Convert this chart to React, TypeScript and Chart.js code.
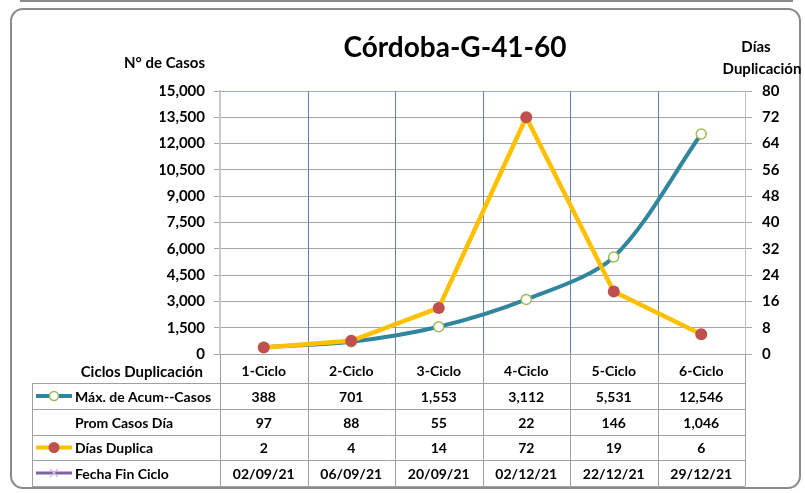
import React, { useEffect, useRef } from 'react';
import { Chart, registerables } from 'chart.js';

Chart.register(...registerables);

const chartTitle = 'Córdoba-G-41-60';
const leftAxisTitle = 'N° de Casos';
const rightAxisTitle = ['Días', 'Duplicación'];
const tableHeader = 'Ciclos Duplicación';
const categories = ['1-Ciclo', '2-Ciclo', '3-Ciclo', '4-Ciclo', '5-Ciclo', '6-Ciclo'];
const maxAcumCasos = [388, 701, 1553, 3112, 5531, 12546];
const promCasosDia = [97, 88, 55, 22, 146, 1046];
const diasDuplica = [2, 4, 14, 72, 19, 6];
const fechaFinCiclo = ['02/09/21', '06/09/21', '20/09/21', '02/12/21', '22/12/21', '29/12/21'];
const seriesNames = ['Máx. de Acum--Casos', 'Prom Casos Día', 'Días Duplica', 'Fecha Fin Ciclo'];
const casosAxis = [0, 15000, 1500];
const diasAxis = [0, 80, 8];

const FONT = 'Lato, "Open Sans", sans-serif';
const fmt = (v: number) => v.toLocaleString('en-US');

const TEAL = '#31859C';
const GREEN = '#9BBB59';
const YELLOW = '#FFC000';
const RED = '#C0504D';
const PURPLE = '#8064A2';
const GRID_GRAY = '#a6a6a6';
const GRID_BLUE = '#6482b4';
const TABLE_GRAY = '#a0a0a0';

const columnEdges = (chart: any) => {
  const xs = chart.scales.x;
  const centers = categories.map((_, i) => xs.getPixelForValue(i));
  const half = (centers[1] - centers[0]) / 2;
  const edges = [...centers.map((c) => c - half), centers[centers.length - 1] + half];
  return { centers, edges };
};

const decorPlugin = {
  id: 'decor',
  beforeDatasetsDraw(chart: any) {
    const ctx = chart.ctx as CanvasRenderingContext2D;
    const { top, bottom } = chart.chartArea;
    const { edges } = columnEdges(chart);
    ctx.save();
    ctx.strokeStyle = GRID_BLUE;
    ctx.lineWidth = 1;
    ctx.beginPath();
    edges.slice(1, edges.length - 1).forEach((x) => {
      ctx.moveTo(Math.round(x) + 0.5, top);
      ctx.lineTo(Math.round(x) + 0.5, bottom);
    });
    ctx.stroke();
    ctx.restore();
  },
  afterDraw(chart: any) {
    const ctx = chart.ctx as CanvasRenderingContext2D;
    const { right, bottom } = chart.chartArea;
    ctx.save();

    // frame of the previous chart (top edge)
    ctx.strokeStyle = '#8a8a8a';
    ctx.lineWidth = 2;
    ctx.beginPath();
    ctx.moveTo(20, 1);
    ctx.lineTo(793, 1);
    ctx.stroke();

    // outer rounded frame
    ctx.beginPath();
    (ctx as any).roundRect(11, 9, 789, 479, 12);
    ctx.stroke();

    // titles
    ctx.fillStyle = '#000';
    ctx.textBaseline = 'middle';
    ctx.textAlign = 'center';
    ctx.font = `bold 28px ${FONT}`;
    ctx.fillText(chartTitle, 455, 48);
    ctx.font = `bold 15px ${FONT}`;
    ctx.textAlign = 'right';
    ctx.fillText(leftAxisTitle, 205, 63);
    ctx.textAlign = 'center';
    ctx.font = `bold 15px ${FONT}`;
    ctx.fillText(rightAxisTitle[0], 756, 47);
    ctx.fillText(rightAxisTitle[1], 762, 69);

    // data table
    const { centers, edges } = columnEdges(chart);
    const rowLines = [bottom + 29, bottom + 55, bottom + 81, bottom + 106, bottom + 132];
    const tableLeft = 32;

    ctx.strokeStyle = TABLE_GRAY;
    ctx.lineWidth = 1;
    ctx.beginPath();
    rowLines.forEach((y) => {
      ctx.moveTo(tableLeft, Math.round(y) + 0.5);
      ctx.lineTo(right, Math.round(y) + 0.5);
    });
    ctx.moveTo(tableLeft + 0.5, rowLines[0]);
    ctx.lineTo(tableLeft + 0.5, rowLines[4]);
    edges.forEach((x) => {
      ctx.moveTo(Math.round(x) + 0.5, bottom);
      ctx.lineTo(Math.round(x) + 0.5, rowLines[4]);
    });
    ctx.stroke();
    // right edge of plot area
    ctx.beginPath();
    ctx.strokeStyle = '#bfbfbf';
    ctx.moveTo(Math.round(right) + 0.5, chart.chartArea.top);
    ctx.lineTo(Math.round(right) + 0.5, bottom);
    ctx.stroke();

    // header label
    ctx.fillStyle = '#000';
    ctx.font = `bold 15px ${FONT}`;
    ctx.textAlign = 'right';
    ctx.fillText(tableHeader, 203, bottom + 18);

    const rows: string[][] = [
      maxAcumCasos.map(fmt),
      promCasosDia.map(fmt),
      diasDuplica.map(fmt),
      fechaFinCiclo,
    ];
    for (let r = 0; r < 4; r++) {
      const yc = (rowLines[r] + rowLines[r + 1]) / 2 + 1;
      ctx.font = `bold 14px ${FONT}`;
      ctx.fillStyle = '#000';
      ctx.textAlign = 'left';
      ctx.fillText(seriesNames[r], 75, yc);
      ctx.textAlign = 'center';
      rows[r].forEach((t, i) => ctx.fillText(t, centers[i], yc));

      // legend keys
      const ky = yc - 1;
      if (r === 0) {
        ctx.strokeStyle = TEAL;
        ctx.lineWidth = 4;
        ctx.beginPath();
        ctx.moveTo(36, ky);
        ctx.lineTo(72, ky);
        ctx.stroke();
        ctx.beginPath();
        ctx.arc(54, ky, 4.5, 0, Math.PI * 2);
        ctx.fillStyle = '#fff';
        ctx.fill();
        ctx.strokeStyle = GREEN;
        ctx.lineWidth = 1.5;
        ctx.stroke();
      } else if (r === 2) {
        ctx.strokeStyle = YELLOW;
        ctx.lineWidth = 4;
        ctx.beginPath();
        ctx.moveTo(36, ky);
        ctx.lineTo(72, ky);
        ctx.stroke();
        ctx.beginPath();
        ctx.arc(54, ky, 5.5, 0, Math.PI * 2);
        ctx.fillStyle = RED;
        ctx.fill();
      } else if (r === 3) {
        ctx.strokeStyle = PURPLE;
        ctx.lineWidth = 3;
        ctx.beginPath();
        ctx.moveTo(36, ky);
        ctx.lineTo(72, ky);
        ctx.stroke();
        ctx.strokeStyle = '#c9b8dd';
        ctx.lineWidth = 1.2;
        ctx.beginPath();
        ctx.moveTo(50, ky - 4);
        ctx.lineTo(58, ky + 4);
        ctx.moveTo(58, ky - 4);
        ctx.lineTo(50, ky + 4);
        ctx.stroke();
      }
    }
    ctx.restore();
  },
};

export default function App() {
  const canvasRef = useRef<HTMLCanvasElement | null>(null);

  useEffect(() => {
    document.body.style.margin = '0';
    const canvas = canvasRef.current;
    if (!canvas) return;
    const chart = new Chart(canvas, {
      type: 'line',
      data: {
        labels: categories,
        datasets: [
          {
            label: seriesNames[2],
            data: diasDuplica,
            yAxisID: 'y2',
            borderColor: YELLOW,
            backgroundColor: RED,
            borderWidth: 4.5,
            tension: 0,
            pointRadius: 6,
            pointBackgroundColor: RED,
            pointBorderColor: RED,
            pointBorderWidth: 0,
          },
          {
            label: seriesNames[0],
            data: maxAcumCasos,
            yAxisID: 'y',
            borderColor: TEAL,
            backgroundColor: '#fff',
            borderWidth: 4,
            tension: 0.3,
            pointRadius: 5,
            pointBackgroundColor: '#fff',
            pointBorderColor: GREEN,
            pointBorderWidth: 1.5,
          },
        ],
      },
      options: {
        animation: false,
        responsive: true,
        maintainAspectRatio: false,
        layout: { padding: { left: 160, right: 0, top: 91, bottom: 0 } },
        plugins: { legend: { display: false }, tooltip: { enabled: false }, title: { display: false } },
        scales: {
          x: {
            type: 'category',
            offset: true,
            grid: { display: false, drawTicks: false },
            border: { display: true, color: GRID_GRAY },
            ticks: { color: '#000', font: { family: FONT, size: 14, weight: 'bold' }, padding: 9 },
            afterFit: (s: any) => {
              s.height = 139;
            },
          },
          y: {
            type: 'linear',
            position: 'left',
            min: casosAxis[0],
            max: casosAxis[1],
            grid: {
              color: (c: any) => (c.tick && c.tick.value === casosAxis[1] ? '#95b3d7' : GRID_GRAY),
              tickColor: GRID_GRAY,
              tickLength: 6,
            },
            border: { display: true, color: '#c8c8c8', width: 2 },
            ticks: {
              stepSize: casosAxis[2],
              color: '#000',
              padding: 9,
              font: { family: FONT, size: 15, weight: 'bold' },
              callback: (v: any) => fmt(Number(v)),
            },
            afterFit: (s: any) => {
              s.width = 60;
            },
          },
          y2: {
            type: 'linear',
            position: 'right',
            min: diasAxis[0],
            max: diasAxis[1],
            grid: { drawOnChartArea: false, tickColor: GRID_GRAY, tickLength: 7 },
            border: { display: true, color: '#bfbfbf' },
            ticks: {
              stepSize: diasAxis[2],
              color: '#000',
              padding: 10,
              font: { family: FONT, size: 15, weight: 'bold' },
            },
            afterFit: (s: any) => {
              s.width = 60;
            },
          },
        },
      } as any,
      plugins: [decorPlugin],
    });
    return () => chart.destroy();
  }, []);

  return (
    <div style={{ position: 'relative', width: 805, height: 493, background: '#fff' }}>
      <canvas ref={canvasRef} />
    </div>
  );
}
